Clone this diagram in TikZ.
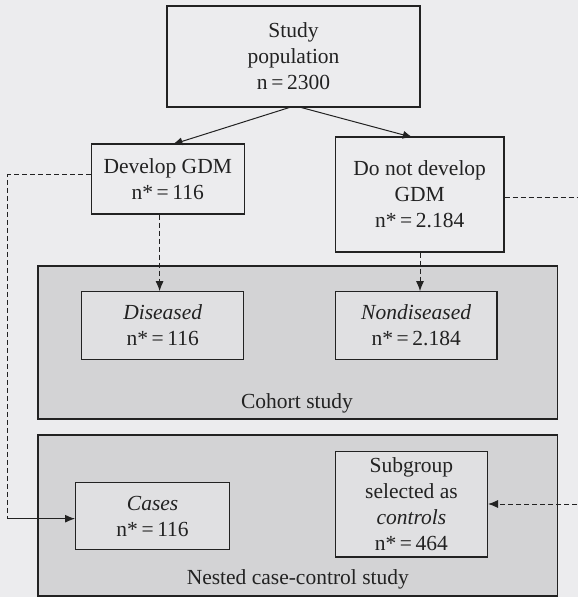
\documentclass[tikz,border=0pt]{standalone}
\usepackage{fontspec}
\setmainfont{Liberation Serif}
\usetikzlibrary{arrows.meta}
\definecolor{bgc}{HTML}{ECECEE}
\definecolor{panel}{HTML}{D3D3D5}
\definecolor{inner}{HTML}{E0E0E2}
\definecolor{ink}{HTML}{222222}
\begin{document}
\begin{tikzpicture}[x=1pt,y=-1pt,
  txt/.style={font=\fontsize{21.5}{26}\selectfont, align=center, text=ink},
  box/.style={draw=ink, line width=1.2pt, inner sep=0pt, txt},
  topbox/.style={box, fill=bgc},
  inbox/.style={box, fill=inner},
  panelbox/.style={draw=ink, line width=1.2pt, fill=panel},
  arr/.style={-{Latex[length=10pt,width=8pt]}, line width=1pt, draw=ink},
  darr/.style={arr, dash pattern=on 5pt off 3pt},
  dline/.style={line width=1pt, draw=ink, dash pattern=on 5pt off 3pt}]
\useasboundingbox (0,0) rectangle (578,597);
\fill[bgc] (0,0) rectangle (578,597);
% panels
\draw[panelbox] (38,266) rectangle (557.5,419);
\draw[panelbox] (38,435) rectangle (557.5,596);
% top nodes
\node[topbox, minimum width=253pt, minimum height=101pt] (pop) at (293.5,56.5) {Study\\population\\n\,=\,2300};
\node[topbox, minimum width=153pt, minimum height=70pt] (dev) at (167.7,179) {Develop GDM\\n*\,=\,116};
\node[topbox, minimum width=168.6pt, minimum height=115pt] (nodev) at (419.7,194.5) {Do not develop\\GDM\\n*\,=\,2.184};
% cohort
\node[inbox, minimum width=162pt, minimum height=67.5pt] (dis) at (162.7,325.5) {\textit{Diseased}\\n*\,=\,116};
\node[inbox, minimum width=161.6pt, minimum height=67.5pt] (nondis) at (416.2,325.5) {\textit{Nondiseased}\\n*\,=\,2.184};
\node[txt] (coh) at (297,403) {Cohort study};
% nested
\node[inbox, minimum width=154pt, minimum height=67.7pt] (cases) at (152.6,516) {\textit{Cases}\\n*\,=\,116};
\node[inbox, minimum width=152pt, minimum height=105.7pt] (sub) at (411.4,504.2) {Subgroup\\selected as\\\textit{controls}\\n*\,=\,464};
\node[txt] (nest) at (297.8,579) {Nested case-control study};
% connectors
\coordinate (p1) at (291,107);
\coordinate (p2) at (299.3,107);
\draw[arr] (p1) -- (172.5,144.4);
\draw[arr] (p2) -- (412.8,137.4);
\draw[darr] (dev.south -| 159.6,0) -- (dis.north -| 159.6,0);
\draw[darr] (nodev.south -| 420,0) -- (nondis.north -| 420,0);
\coordinate (lc1) at (7.7,174.7);
\coordinate (lc2) at (7.7,518.7);
\draw[dline] (dev.west |- lc1) -- (lc1) -- (lc2) -- (cases.west |- lc2);
\draw[darr] (lc2) -- (cases.west |- lc2);
\coordinate (rc1) at (585,197.7);
\coordinate (rc2) at (585,504);
\draw[dline] (nodev.east |- rc1) -- (rc1) -- (rc2);
\draw[darr] (rc2) -- (sub.east |- rc2);
\end{tikzpicture}
\end{document}
